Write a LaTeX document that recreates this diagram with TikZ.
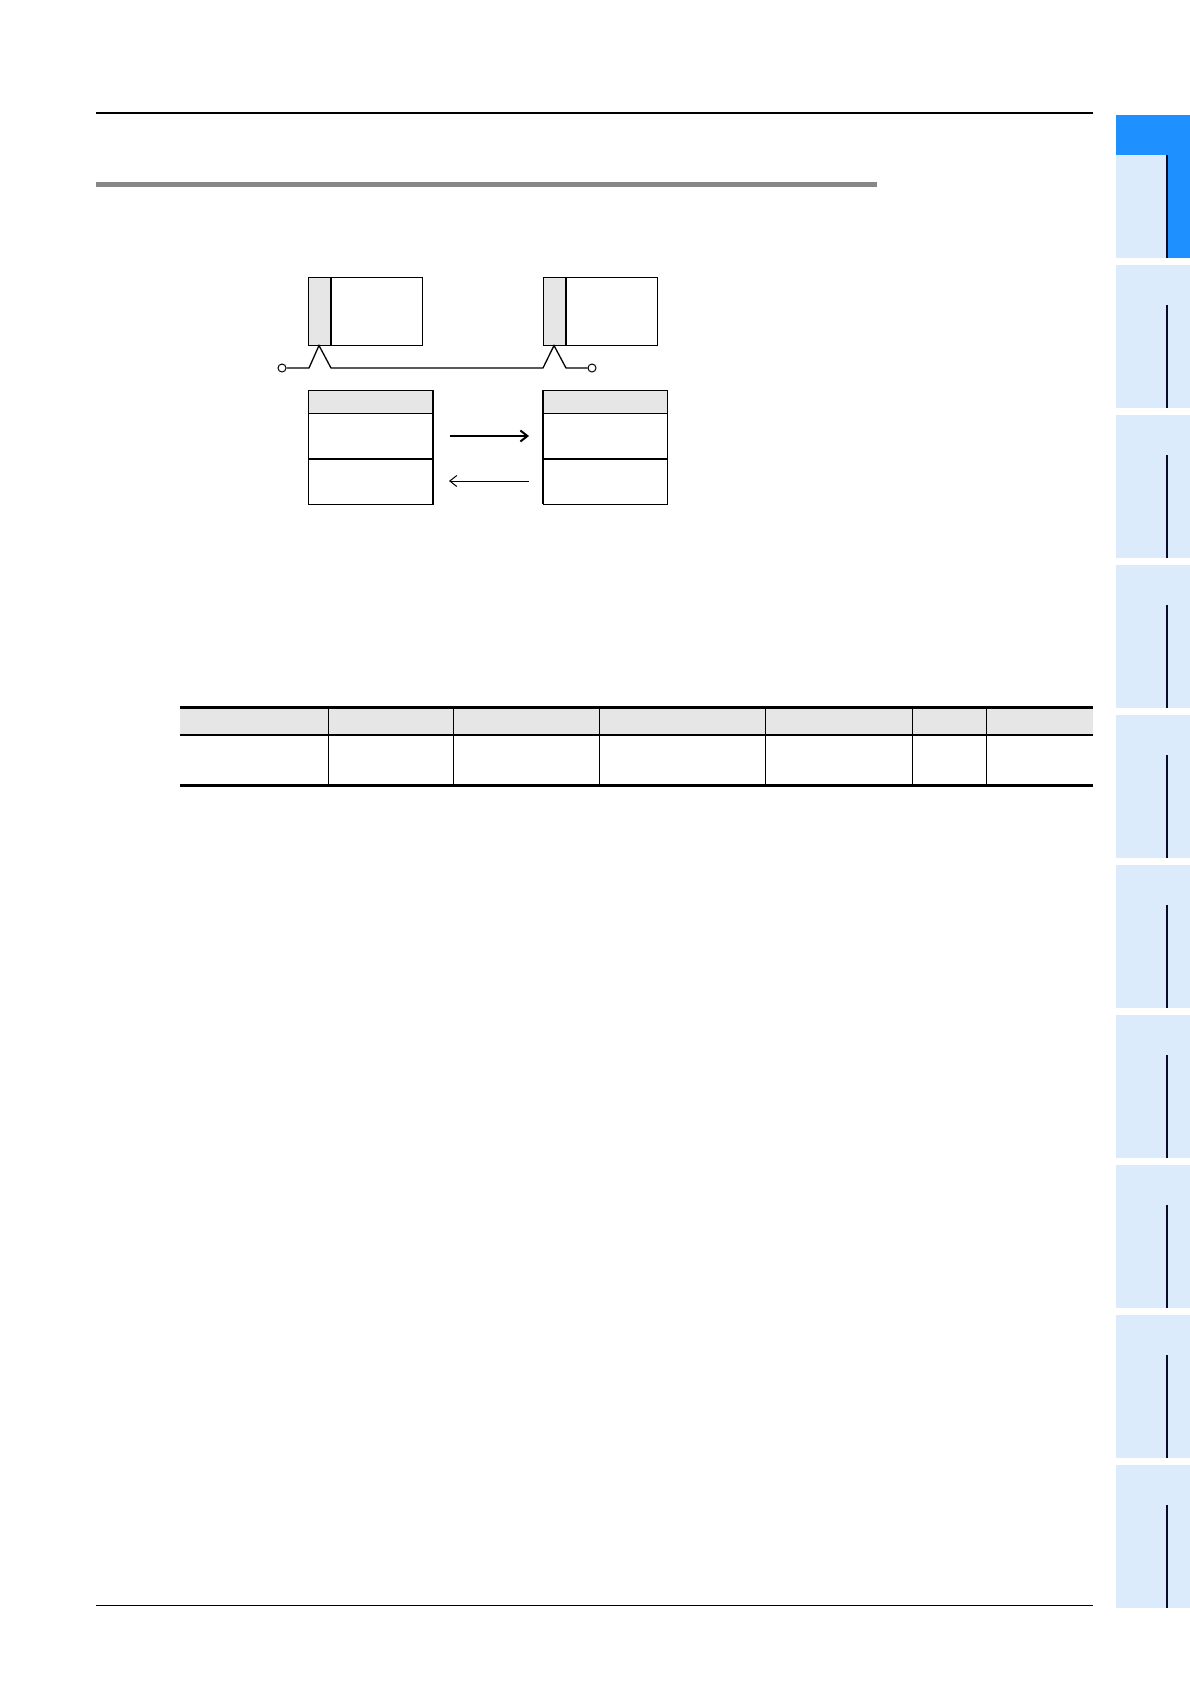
\documentclass[tikz,border=0pt]{standalone}
\usetikzlibrary{arrows.meta}
\definecolor{tabblue}{RGB}{30,144,255}
\definecolor{tablight}{RGB}{220,235,251}
\definecolor{tabline}{RGB}{10,10,40}
\definecolor{hdrgray}{RGB}{230,230,230}
\definecolor{rulegray}{RGB}{135,135,135}
\tikzset{
  box/.style={draw, line width=1pt, inner sep=0pt, outer sep=0pt, anchor=north west},
  term/.style={draw, circle, line width=1pt, inner sep=0pt, minimum size=8pt, fill=white},
  wire/.style={line width=1.3pt},
  chev/.style={-{Straight Barb[length=7pt,width=11pt]}},
}
\begin{document}
\begin{tikzpicture}[x=1pt,y=-1pt]
\fill[white] (0,0) rectangle (1190,1684);
\useasboundingbox (0,0) rectangle (1190,1684);

% page rules
\draw[line width=1.2pt] (96,113) -- (1093,113);
\draw[rulegray, line width=5pt] (96,184) -- (877,184);
\draw[line width=1pt] (96,1605) -- (1093,1605);

% side tabs
\foreach \k in {0,...,9}{
  \pgfmathsetmacro{\t}{115+150*\k}
  \fill[tablight] (1116,\t) rectangle (1190,\t+143);
  \ifnum\k>0
    \draw[tabline, line width=1.6pt] (1167,\t+40) -- (1167,\t+143);
  \fi
}
\fill[tabblue] (1116,115) rectangle (1190,155);
\fill[tabblue] (1168,155) rectangle (1190,258);
\draw[tabline, line width=1.6pt] (1167,155) -- (1167,258);

% upper devices
\node[box, minimum width=114pt, minimum height=68pt] (devA) at (308,277) {};
\fill[hdrgray] (308.5,277.5) rectangle (331,344.5);
\draw[line width=2pt] (331,277) -- (331,345);
\node[box, minimum width=114pt, minimum height=68pt] (devB) at (543,277) {};
\fill[hdrgray] (543.5,277.5) rectangle (566,344.5);
\draw[line width=2pt] (566,277) -- (566,345);

% cable
\node[term] (tA) at (282,368) {};
\node[term] (tB) at (592,368) {};
\draw[wire] (tA) -- (309,368) -- (319,345.5) -- (331,368) -- (543,368) -- (554,345.5) -- (566,368) -- (tB);

% lower tables
\node[box, minimum width=125pt, minimum height=114pt] (tabA) at (308,390) {};
\fill[hdrgray] (308.5,390.5) rectangle (432,413);
\draw[line width=1pt] (308,413) -- (433,413);
\draw[line width=2pt] (308,459) -- (433,459);
\draw[line width=2pt] (433,390) -- (433,504);
\draw[line width=1pt] (tabA.north west) rectangle (tabA.south east);

\node[box, minimum width=124pt, minimum height=114pt] (tabB) at (543,390) {};
\fill[hdrgray] (544,390.5) rectangle (666.5,413);
\draw[line width=1pt] (543,413) -- (667,413);
\draw[line width=2pt] (543,459) -- (667,459);
\draw[line width=2pt] (543,390) -- (543,504);
\draw[line width=1pt] (tabB.north west) rectangle (tabB.south east);

% transfer arrows
\coordinate (a1s) at (450,436);
\coordinate (a1e) at (529,436);
\coordinate (a2s) at (529,481);
\coordinate (a2e) at (449,481);
\draw[chev, line width=2pt] (a1s) -- (a1e);
\draw[chev, line width=1pt] (a2s) -- (a2e);

% data table
\fill[hdrgray] (180,708) rectangle (1093,735);
\foreach \x in {328,453,599,765,912,986}{
  \draw[line width=1pt] (\x,707) -- (\x,785);
}
\draw[line width=1.5pt] (180,735) -- (1093,735);
\draw[line width=3pt] (180,707) -- (1093,707);
\draw[line width=3pt] (180,785) -- (1093,785);
\end{tikzpicture}
\end{document}
